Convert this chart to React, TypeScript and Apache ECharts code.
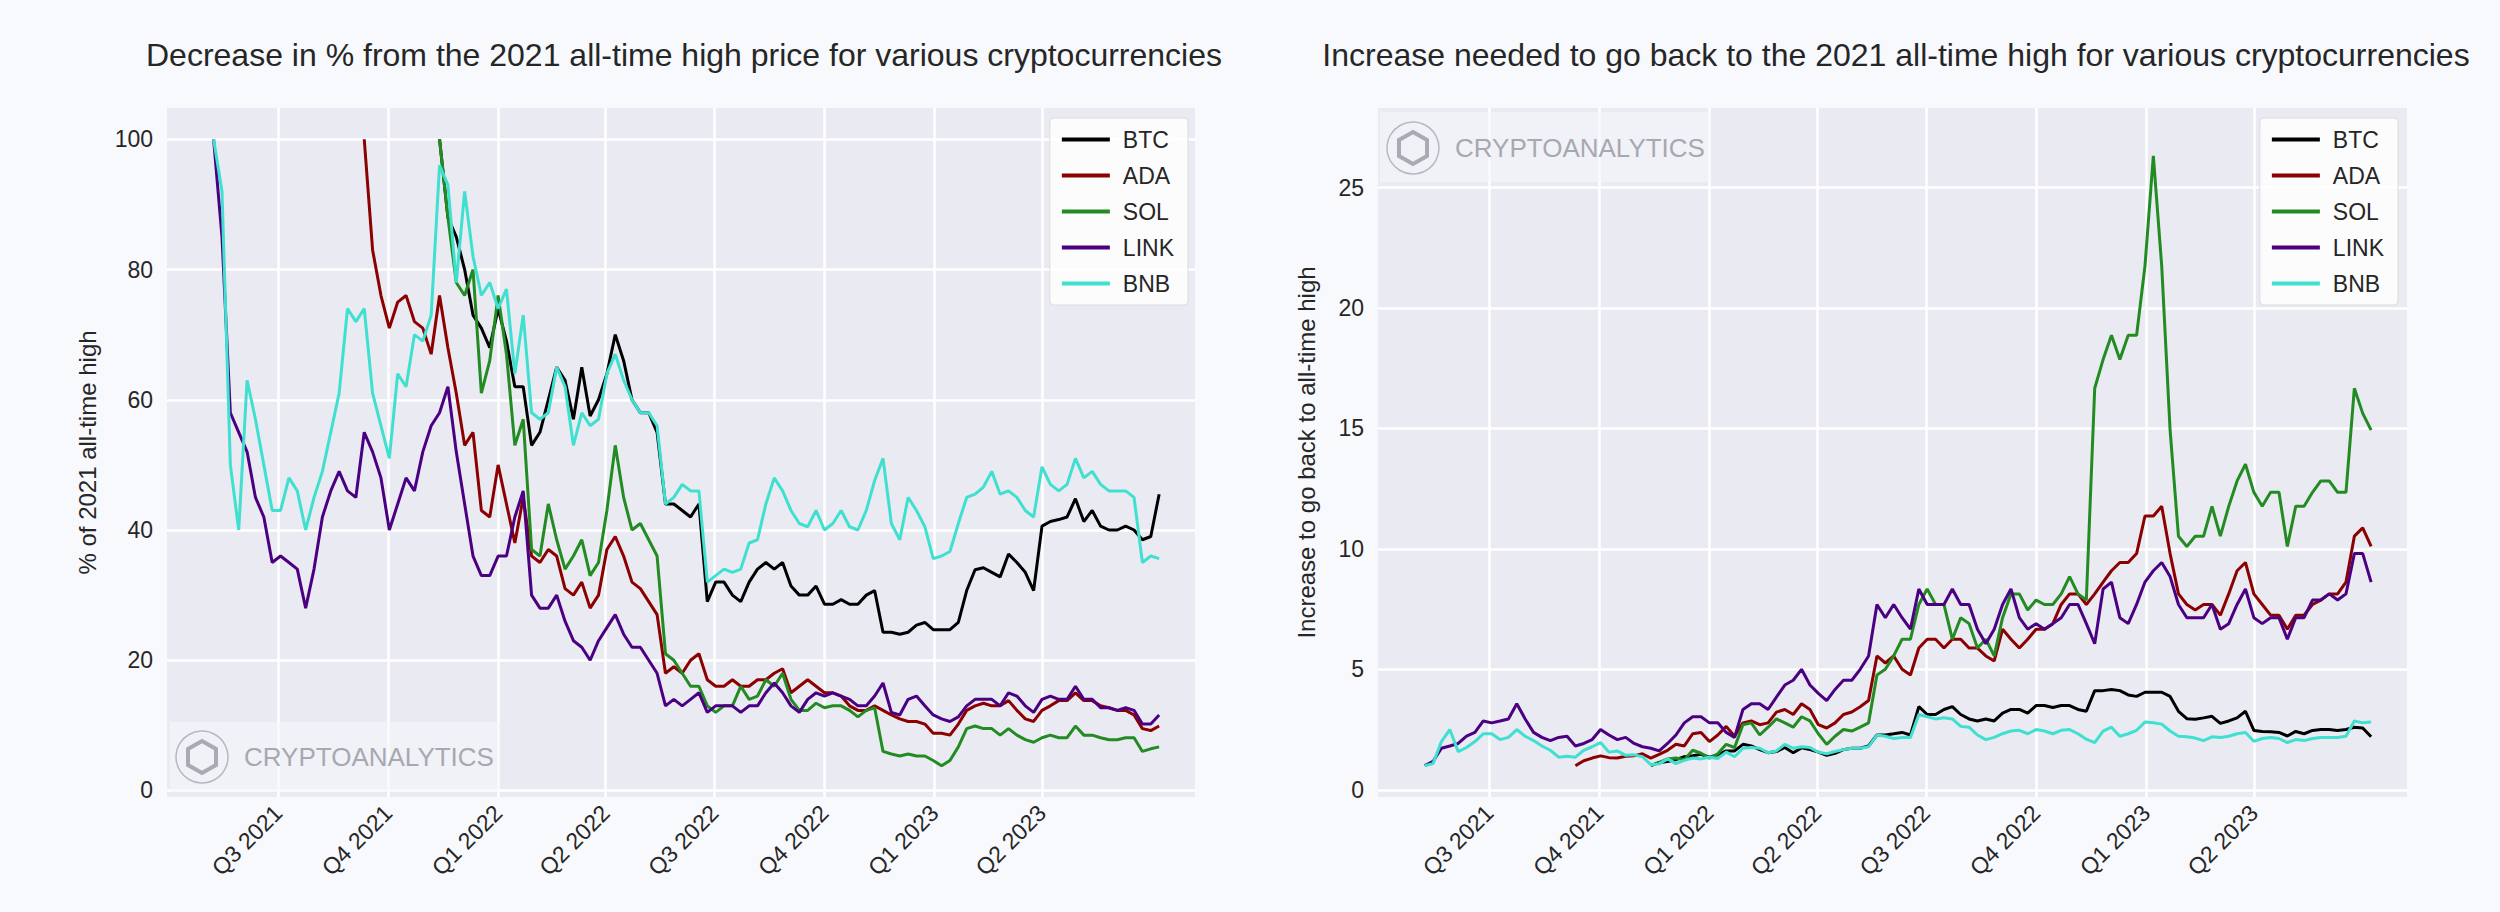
import { useEffect, useRef } from 'react';
import * as echarts from 'echarts';

// weekly samples, % of the 2021 all-time high
const startDate = Date.UTC(2021, 4, 8);
const weekMs = 7 * 24 * 3600 * 1000;

const linkValues = [100, 85, 58, 55, 52, 45, 42, 35, 36, 35, 34, 28, 34, 42, 46, 49, 46, 45, 55, 52, 48, 40, 44, 48, 46, 52, 56, 58, 62, 52, 44, 36, 33, 33, 36, 36, 42, 46, 30, 28, 28, 30, 26, 23, 22, 20, 23, 25, 27, 24, 22, 22, 20, 18, 13, 14, 13, 14, 15, 12, 13, 13,
    13, 12, 13, 13, 15, 16.5, 15, 13, 12, 14, 15, 14.5, 15, 14.5, 14, 13, 13, 14.5, 16.5, 12, 11.6, 14, 14.5, 13, 11.6, 11, 10.6, 11.3, 13, 14, 14, 14, 13, 15, 14.5, 13, 12, 14, 14.5, 14, 14, 16, 14, 14, 12.7, 12.7, 12.3, 12.7, 12.3, 10.2, 10.2, 11.6];
const bnbValues = [100, 92, 50, 40, 63, 57, 50, 43, 43, 48, 46, 40, 45, 49, 55, 61, 74, 72, 74, 61, 56, 51, 64, 62, 70, 69, 73, 96, 93, 78, 92, 82, 76, 78, 74, 77, 64, 73, 58, 57, 58, 65, 62, 53, 58, 56, 57, 64, 67, 63, 60, 58, 58, 56, 44, 45, 47, 46, 46, 32, 33, 34,
    33.5, 34, 38, 38.5, 44, 48, 46, 43, 41, 40.5, 43, 40, 41, 43, 40.5, 40, 43, 47.6, 51, 41, 38.5, 45, 43, 40.5, 35.6, 36, 36.7, 41, 45, 45.5, 46.6, 49, 45.5, 46, 45, 43, 42, 49.7, 47, 46, 47, 51, 48, 49, 47, 46, 46, 46, 45, 35, 36, 35.6];
// BTC and SOL start at week 27, ADA at week 18
const btcStart = 27;
const btcValues = [100, 88, 85, 80, 73, 71, 68, 74, 69, 62, 62, 53, 55, 60, 65, 63, 57, 65, 57.5, 60, 64, 70, 66, 60, 58, 58, 55, 44, 44, 43, 42, 44, 29, 32, 32,
    30, 29, 32, 34, 35, 34, 35, 31.4, 30, 30, 31.4, 28.6, 28.6, 29.3, 28.6, 28.6, 30, 30.7, 24.3, 24.3, 24, 24.3, 25.4, 25.8, 24.7, 24.7, 24.7, 25.8, 30.7, 33.9, 34.2, 33.5, 32.8, 36.3, 35, 33.5, 30.7, 40.6, 41.3, 41.6, 42, 44.8, 41.3, 43, 40.6, 40, 40, 40.6, 40, 38.5, 39, 45.5];
const adaStart = 18;
const adaValues = [100, 83, 76, 71, 75, 76, 72, 71, 67, 76, 68, 61, 53, 55, 43, 42, 50, 44, 38, 45, 36, 35, 37, 36, 31, 30, 32, 28, 30, 37, 39, 36, 32, 31, 29, 27, 18, 19, 18, 20, 21, 17, 16, 16,
    17, 16, 16, 17, 17, 18, 18.7, 15, 16, 17, 16, 15, 15, 14.5, 13, 12.3, 12.3, 13, 12.3, 11.6, 11, 10.6, 10.6, 10.2, 8.8, 8.8, 8.5, 10.2, 12.3, 13, 13.4, 13, 13, 13.8, 12.3, 11, 10.6, 12.3, 13, 13.8, 13.8, 15, 13.8, 13.8, 13, 12.7, 12.3, 12.3, 11.6, 9.5, 9.2, 9.9];
const solStart = 27;
const solValues = [100, 88, 78, 76, 80, 61, 66, 76, 67, 53, 57, 37, 36, 44, 38.5, 34, 36, 38.5, 33, 35, 43, 53, 45, 40, 41, 38.5, 36, 21, 20, 18, 16, 16, 13, 12, 13,
    13, 16, 14, 14.5, 17, 16, 18, 14, 12.3, 12.3, 13.4, 12.7, 13, 13, 12.3, 11.3, 12.3, 12.7, 6, 5.6, 5.3, 5.6, 5.3, 5.3, 4.6, 3.8, 4.6, 6.7, 9.5, 9.9, 9.5, 9.5, 8.5, 9.5, 8.5, 7.8, 7.4, 8.1, 8.5, 8.1, 8.1, 9.9, 8.5, 8.5, 8.1, 7.8, 7.8, 8.1, 8.1, 6, 6.4, 6.7];

const coins = [
    { name: 'BTC', color: '#000000', start: btcStart, values: btcValues },
    { name: 'ADA', color: '#8b0000', start: adaStart, values: adaValues },
    { name: 'SOL', color: '#228b22', start: solStart, values: solValues },
    { name: 'LINK', color: '#4b0082', start: 0, values: linkValues },
    { name: 'BNB', color: '#40e0d0', start: 0, values: bnbValues },
];

const quarterTicks = [
    Date.UTC(2021, 6, 1), Date.UTC(2021, 9, 1), Date.UTC(2022, 0, 1), Date.UTC(2022, 3, 1),
    Date.UTC(2022, 6, 1), Date.UTC(2022, 9, 1), Date.UTC(2023, 0, 1), Date.UTC(2023, 3, 1),
];
const leftTicks = [0, 20, 40, 60, 80, 100];
const rightTicks = [0, 5, 10, 15, 20, 25];

const xMin = Date.UTC(2021, 2, 30);
const xMax = Date.UTC(2023, 7, 7);
const font = 'Liberation Sans, Arial, sans-serif';

const quarterLabel = (v: number) => {
    const d = new Date(v);
    return `Q${Math.floor(d.getUTCMonth() / 3) + 1} ${d.getUTCFullYear()}`;
};

const watermark = (x: number, y: number) => [
    { type: 'circle', shape: { cx: x, cy: y, r: 26 }, style: { fill: 'none', stroke: '#b8b8c0', lineWidth: 1.5 }, z: 100 },
    { type: 'polygon', shape: { points: [[x, y - 16], [x + 14, y - 8], [x + 14, y + 8], [x, y + 16], [x - 14, y + 8], [x - 14, y - 8]] }, style: { fill: 'none', stroke: '#aaaab2', lineWidth: 4 }, z: 100 },
    { type: 'text', x: x + 42, y, style: { text: 'CRYPTOANALYTICS', fill: '#a8a8b0', font: `26px ${font}`, verticalAlign: 'middle' }, z: 100 },
];

export default function App() {
    const chartRef = useRef<HTMLDivElement>(null);

    useEffect(() => {
        document.body.style.margin = '0';
        if (!chartRef.current) return;
        const chart = echarts.init(chartRef.current, undefined, { renderer: 'svg' });

        const xAxisBase = (gridIndex: number) => ({
            type: 'value',
            gridIndex,
            min: xMin,
            max: xMax,
            axisLine: { show: false },
            axisTick: { show: false, customValues: quarterTicks },
            axisLabel: {
                customValues: quarterTicks,
                formatter: quarterLabel,
                rotate: 45,
                color: '#262626',
                fontSize: 23,
                fontFamily: font,
                margin: 12,
            },
            splitLine: { show: true, lineStyle: { color: '#ffffff', width: 2.5 } },
        });
        const yAxisBase = (gridIndex: number, min: number, max: number, ticks: number[], name: string) => ({
            type: 'value',
            gridIndex,
            min,
            max,
            name,
            nameLocation: 'middle',
            nameGap: gridIndex === 0 ? 68 : 60,
            nameTextStyle: { fontSize: 24, color: '#262626', fontFamily: font },
            axisLine: { show: false },
            axisTick: { show: false, customValues: ticks },
            axisLabel: { customValues: ticks, color: '#262626', fontSize: 23, fontFamily: font, margin: 14 },
            splitLine: { show: true, lineStyle: { color: '#ffffff', width: 2.5 } },
        });

        const series: any[] = [];
        coins.forEach(c => {
            const pts = c.values.map((v, i) => [startDate + (c.start + i) * weekMs, v]);
            series.push({
                name: c.name, type: 'line', xAxisIndex: 0, yAxisIndex: 0, data: pts,
                showSymbol: false, lineStyle: { color: c.color, width: 3 }, itemStyle: { color: c.color },
            });
            series.push({
                name: c.name, type: 'line', xAxisIndex: 1, yAxisIndex: 1,
                data: pts.map(p => [p[0], 100 / p[1]]),
                showSymbol: false, lineStyle: { color: c.color, width: 3 }, itemStyle: { color: c.color },
            });
        });

        const legendBase = {
            data: coins.map(c => c.name),
            orient: 'vertical',
            itemWidth: 48,
            itemHeight: 4,
            itemGap: 13,
            icon: 'rect',
            backgroundColor: 'rgba(255,255,255,0.85)',
            borderColor: '#dddddd',
            borderWidth: 1,
            borderRadius: 4,
            padding: [10, 14, 10, 12],
            textStyle: { fontSize: 23, color: '#262626', fontFamily: font, padding: [0, 0, 0, 8] },
        };

        chart.setOption({
            animation: false,
            backgroundColor: '#f8f9fd',
            title: [
                { text: 'Decrease in % from the 2021 all-time high price for various cryptocurrencies', left: 679, top: 34, textAlign: 'center', textStyle: { fontSize: 32, fontWeight: 'normal', color: '#262626', fontFamily: font } },
                { text: 'Increase needed to go back to the 2021 all-time high for various cryptocurrencies', left: 1891, top: 34, textAlign: 'center', textStyle: { fontSize: 32, fontWeight: 'normal', color: '#262626', fontFamily: font } },
            ],
            grid: [
                { left: 167, top: 108, width: 1028, height: 689, show: true, backgroundColor: '#eaeaf2', borderWidth: 0 },
                { left: 1378, top: 108, width: 1029, height: 689, show: true, backgroundColor: '#eaeaf2', borderWidth: 0 },
            ],
            xAxis: [xAxisBase(0), xAxisBase(1)],
            yAxis: [
                yAxisBase(0, -1, 104.8, leftTicks, '% of 2021 all-time high'),
                yAxisBase(1, -0.3, 28.3, rightTicks, 'Increase to go back to all-time high'),
            ],
            legend: [
                { ...legendBase, right: 2500 - 1188, top: 118 },
                { ...legendBase, right: 2500 - 2398, top: 118 },
            ],
            graphic: [
                { type: 'rect', shape: { x: 170, y: 722, width: 330, height: 70 }, style: { fill: 'rgba(245,246,250,0.6)' }, z: 99 },
                { type: 'rect', shape: { x: 1380, y: 112, width: 330, height: 70 }, style: { fill: 'rgba(245,246,250,0.6)' }, z: 99 },
                ...watermark(202, 757),
                ...watermark(1413, 148),
            ],
            series,
        });

        return () => chart.dispose();
    }, []);

    return <div ref={chartRef} style={{ width: 2500, height: 912 }} />;
}
